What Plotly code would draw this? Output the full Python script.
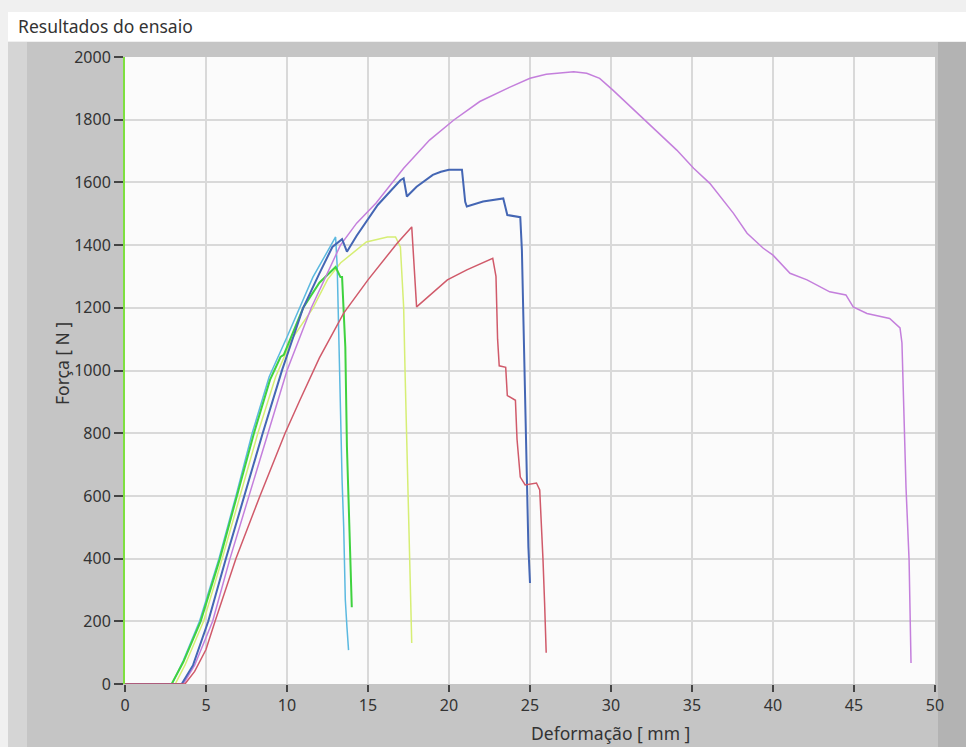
import plotly.graph_objects as go

# ---- data ----
cyan_x = [0, 2.9, 3.6, 4.6, 5.8, 6.85, 7.85, 8.9, 10.0, 11.6, 12.5, 13.0, 13.1, 13.2, 13.3, 13.4, 13.5, 13.6, 13.7, 13.8]
cyan_y = [0, 0, 75, 200, 400, 600, 800, 980, 1107, 1298, 1380, 1426, 1330, 1075, 850, 651, 500, 268, 182, 108]

green_x = [0, 2.88, 3.6, 4.67, 5.86, 6.93, 7.96, 8.95, 9.6, 9.8, 11.0, 12.0, 13.0, 13.3, 13.4, 13.6, 13.7, 13.8, 13.9, 14.0]
green_y = [0, 0, 70, 200, 400, 600, 800, 970, 1043, 1050, 1200, 1280, 1330, 1298, 1298, 1075, 756, 587, 400, 245]

yellow_x = [0, 3.1, 3.7, 4.85, 6.0, 7.1, 8.2, 9.3, 10.3, 11.6, 12.5, 13.3, 14.9, 16.2, 16.7, 17.0, 17.2, 17.3,
            17.4, 17.5, 17.6, 17.7]
yellow_y = [0, 0, 60, 200, 400, 600, 800, 980, 1100, 1199, 1290, 1343, 1410, 1426, 1426, 1394, 1203, 970,
            756, 533, 373, 131]

blue_x = [0, 3.5, 4.2, 5.14, 6.23, 7.37, 8.5, 9.7, 11.0, 12.0, 12.8, 13.4, 13.7, 14.3, 15.6, 17.0, 17.2, 17.4,
          18.0, 19.0, 19.5, 20.0, 20.8, 21.0, 21.1, 22.1, 23.35, 23.6, 24.4, 24.5, 24.6, 24.7, 24.8, 24.9, 25.0]
blue_y = [0, 0, 60, 200, 400, 600, 800, 1002, 1200, 1310, 1394, 1419, 1379, 1430, 1528, 1607, 1613, 1555,
          1586, 1624, 1634, 1640, 1640, 1538, 1523, 1539, 1549, 1496, 1489, 1384, 1119, 906, 660, 437, 322]

purple_x = [0, 3.6, 4.3, 5.41, 6.48, 7.65, 8.79, 10.0, 11.5, 13.3, 14.3, 15.5, 17.2, 18.8, 20.3, 21.9, 23.6,
            25.0, 26.0, 27.7, 28.5, 29.3, 30.1, 30.76, 32.2, 34.06, 35.1, 36.1, 37.55, 38.4, 39.4, 40.0,
            41.05, 42.1, 43.5, 44.5, 44.95, 45.8, 47.2, 47.84, 47.96, 48.09, 48.21, 48.4, 48.46, 48.52]
purple_y = [0, 0, 60, 200, 400, 600, 800, 1000, 1200, 1400, 1470, 1534, 1645, 1735, 1799, 1858, 1900,
            1932, 1945, 1953, 1948, 1932, 1895, 1863, 1794, 1703, 1645, 1597, 1502, 1438, 1390, 1368,
            1310, 1289, 1251, 1241, 1203, 1182, 1166, 1136, 1088, 852, 628, 396, 182, 67]

red_x = [0, 3.7, 4.3, 5.0, 5.56, 6.85, 8.33, 9.88, 10.8, 12.0, 13.5, 15.0, 16.8, 17.7, 18.0, 19.9, 21.1, 22.7,
         22.9, 23.0, 23.1, 23.5, 23.6, 24.1, 24.2, 24.4, 24.7, 25.4, 25.6, 25.7, 25.8, 25.9, 26.0]
red_y = [0, 0, 40, 110, 200, 400, 600, 800, 906, 1040, 1183, 1289, 1406, 1458, 1203, 1289, 1321, 1358,
         1300, 1100, 1015, 1010, 920, 905, 780, 660, 635, 641, 619, 530, 400, 260, 100]

x_ticks = [0, 5, 10, 15, 20, 25, 30, 35, 40, 45, 50]
y_ticks = [0, 200, 400, 600, 800, 1000, 1200, 1400, 1600, 1800, 2000]

series = [
    (yellow_x, yellow_y, "#d6ee74", 1.5),
    (cyan_x, cyan_y, "#5bb9e0", 1.5),
    (green_x, green_y, "#3fd23f", 2),
    (purple_x, purple_y, "#c47fdc", 1.5),
    (blue_x, blue_y, "#4466b4", 2),
    (red_x, red_y, "#d05a6a", 1.5),
]

fig = go.Figure()
for xs, ys, col, w in series:
    fig.add_trace(go.Scatter(x=xs, y=ys, mode="lines", line=dict(color=col, width=w),
                             showlegend=False, hoverinfo="skip"))

W, H = 966, 747
L, R, T, B = 125, 935, 57, 684
pw, ph = R - L, B - T


def px(xp):
    return (xp - L) / pw


def py(yp):
    return (B - yp) / ph


shapes = [
    # title bar
    dict(type="rect", xref="paper", yref="paper", x0=px(8), x1=px(966), y0=py(41), y1=py(12),
         fillcolor="#ffffff", line=dict(width=0), layer="below"),
    # gray frame
    dict(type="rect", xref="paper", yref="paper", x0=px(8), x1=px(966), y0=py(747), y1=py(42),
         fillcolor="#c5c5c5", line=dict(width=0), layer="below"),
    dict(type="rect", xref="paper", yref="paper", x0=px(8), x1=px(27), y0=py(747), y1=py(42),
         fillcolor="#d5d5d5", line=dict(width=0), layer="below"),
    dict(type="rect", xref="paper", yref="paper", x0=px(938), x1=px(966), y0=py(747), y1=py(42),
         fillcolor="#b3b3b3", line=dict(width=0), layer="below"),
    # plot area
    dict(type="rect", xref="paper", yref="paper", x0=0, x1=1, y0=0, y1=1,
         fillcolor="#fbfbfb", line=dict(width=0), layer="below"),
]

font = "Noto Sans"
fig.update_layout(
    width=W, height=H,
    margin=dict(l=L, r=W - R, t=T, b=H - B, pad=0),
    paper_bgcolor="#f0f0f0",
    plot_bgcolor="#fbfbfb",
    shapes=shapes,
    font=dict(family=font, size=16, color="#333333"),
    xaxis=dict(range=[0, 50], tickvals=x_ticks, ticktext=[str(v) for v in x_ticks],
               showgrid=True, gridcolor="#d9d9d9", gridwidth=1.5, zeroline=False,
               ticks="outside", ticklen=7, tickwidth=2, tickcolor="#444444",
               showline=False, tickfont=dict(size=16, color="#333333"), fixedrange=True),
    yaxis=dict(range=[0, 2000], tickvals=y_ticks, ticktext=[str(v) for v in y_ticks],
               showgrid=True, gridcolor="#d9d9d9", gridwidth=1.5, zeroline=False,
               ticks="outside", ticklen=9, tickwidth=2, tickcolor="#444444",
               showline=True, linecolor="#7ee040", linewidth=2,
               tickfont=dict(size=16, color="#333333"), fixedrange=True),
    annotations=[
        dict(text="Resultados do ensaio", xref="paper", yref="paper", x=px(16), y=py(26),
             xanchor="left", yanchor="middle", showarrow=False,
             font=dict(family=font, size=17.5, color="#333333")),
        dict(text="Força [ N ]", xref="paper", yref="paper", x=px(62), y=py(364),
             xanchor="center", yanchor="middle", showarrow=False, textangle=-90,
             font=dict(family=font, size=17.5, color="#333333")),
        dict(text="Deformação [ mm ]", xref="paper", yref="paper", x=px(610), y=py(733),
             xanchor="center", yanchor="middle", showarrow=False,
             font=dict(family=font, size=17.5, color="#333333")),
    ],
)

fig.write_html(
    "out.html",
    config={"displayModeBar": False},
    post_script="document.body.style.margin='0';document.body.style.padding='0';"
                "document.body.style.background='#f0f0f0';document.body.style.overflow='hidden';",
)
